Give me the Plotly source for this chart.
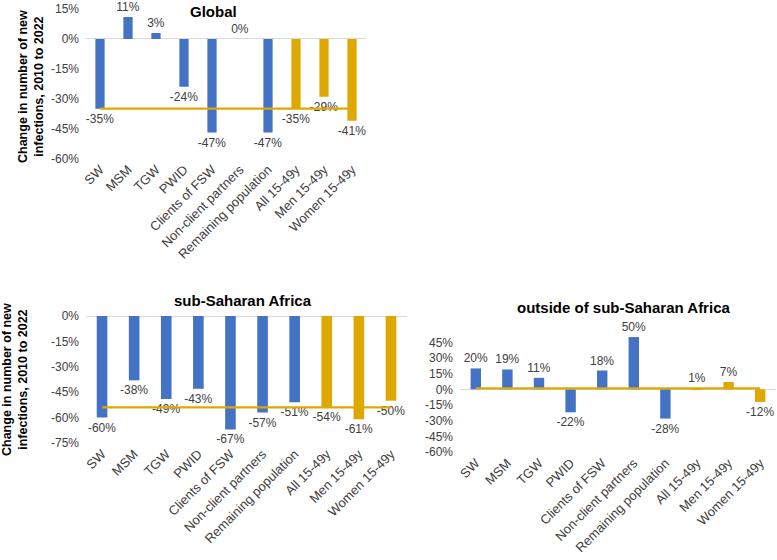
import plotly.graph_objects as go

categories = ["SW", "MSM", "TGW", "PWID", "Clients of FSW", "Non-client partners",
              "Remaining population", "All 15-49y", "Men 15-49y", "Women 15-49y"]
groups = ["key"] * 7 + ["adult"] * 3
global_vals = [-35, 11, 3, -24, -47, 0, -47, -35, -29, -41]
ssa_vals = [-60, -38, -49, -43, -67, -57, -51, -54, -61, -50]
outside_vals = [20, 19, 11, -22, 18, 50, -28, 1, 7, -12]

titles = ["Global", "sub-Saharan Africa", "outside of sub-Saharan Africa"]
y_title = "Change in number of new<br>infections, 2010 to 2022"

BLUE = "#4472C4"
GOLD = "#DFA800"
FONT = "Arial, Liberation Sans, sans-serif"
W, H = 777, 560

colors = [BLUE if g == "key" else GOLD for g in groups]

fig = go.Figure()

panels = [
    dict(vals=global_vals, xa="x", ya="y", xd=(86, 366), yd=(9, 158.5), yr=[-60, 15],
         ticks=[15, 0, -15, -30, -45, -60], title_xy=(213, 11), ytitle_xy=(31, 87)),
    dict(vals=ssa_vals, xa="x2", ya="y2", xd=(86, 407), yd=(316, 443), yr=[-75, 0],
         ticks=[0, -15, -30, -45, -60, -75], title_xy=(243, 300), ytitle_xy=(15, 380)),
    dict(vals=outside_vals, xa="x3", ya="y3", xd=(460, 776), yd=(335, 452), yr=[-60, 52],
         ticks=[45, 30, 15, 0, -15, -30, -45, -60], title_xy=(623, 307), ytitle_xy=None),
]

annotations = []
for i, p in enumerate(panels):
    fig.add_trace(go.Bar(
        x=categories, y=p["vals"], xaxis=p["xa"], yaxis=p["ya"],
        marker=dict(color=colors, line=dict(width=0)), width=0.33,
        texttemplate="%{y:.0f}%", textposition="outside", cliponaxis=False,
        constraintext="none",
        textfont=dict(family=FONT, size=12, color="#404040"),
        showlegend=False, hoverinfo="x+y",
    ))
    all_val = p["vals"][categories.index("All 15-49y")]
    fig.add_trace(go.Scatter(
        x=categories, y=[all_val] * len(categories), xaxis=p["xa"], yaxis=p["ya"],
        mode="lines", line=dict(color=GOLD, width=2.2), showlegend=False, hoverinfo="skip",
    ))
    sfx = "" if i == 0 else str(i + 1)
    fig.layout["xaxis" + sfx] = dict(
        domain=[p["xd"][0] / W, p["xd"][1] / W], anchor="y" + sfx, automargin=False,
        tickangle=-45, showgrid=False, showline=False, ticks="", zeroline=False,
        ticklabeloverflow="allow",
        tickfont=dict(family=FONT, size=13, color="#404040"), range=[-0.5, 9.5],
    )
    fig.layout["yaxis" + sfx] = dict(
        domain=[1 - p["yd"][1] / H, 1 - p["yd"][0] / H], anchor="x" + sfx, automargin=False,
        range=p["yr"], tickvals=p["ticks"], ticktext=[f"{t}%" for t in p["ticks"]],
        showgrid=False, zeroline=True, zerolinecolor="#D9D9D9", zerolinewidth=1,
        showline=False, ticks="", ticklabelstandoff=6, ticklabeloverflow="allow",
        tickfont=dict(family=FONT, size=12, color="#404040"),
    )
    annotations.append(dict(
        text=f"<b>{titles[i]}</b>", x=p["title_xy"][0] / W, y=1 - p["title_xy"][1] / H,
        xref="paper", yref="paper", showarrow=False,
        font=dict(family=FONT, size=15, color="#000000"), xanchor="center", yanchor="middle",
    ))
    if p["ytitle_xy"]:
        annotations.append(dict(
            text=f"<b>{y_title}</b>", x=p["ytitle_xy"][0] / W, y=1 - p["ytitle_xy"][1] / H,
            xref="paper", yref="paper", showarrow=False, textangle=-90,
            font=dict(family=FONT, size=12.5, color="#000000"), xanchor="center", yanchor="middle",
        ))

fig.update_layout(
    width=W, height=H, margin=dict(l=0, r=0, t=0, b=0),
    paper_bgcolor="white", plot_bgcolor="white",
    annotations=annotations, bargap=0.6,
)

fig.write_html("out.html", config={"displayModeBar": False},
               post_script="document.body.style.margin='0';document.body.style.padding='0';")
